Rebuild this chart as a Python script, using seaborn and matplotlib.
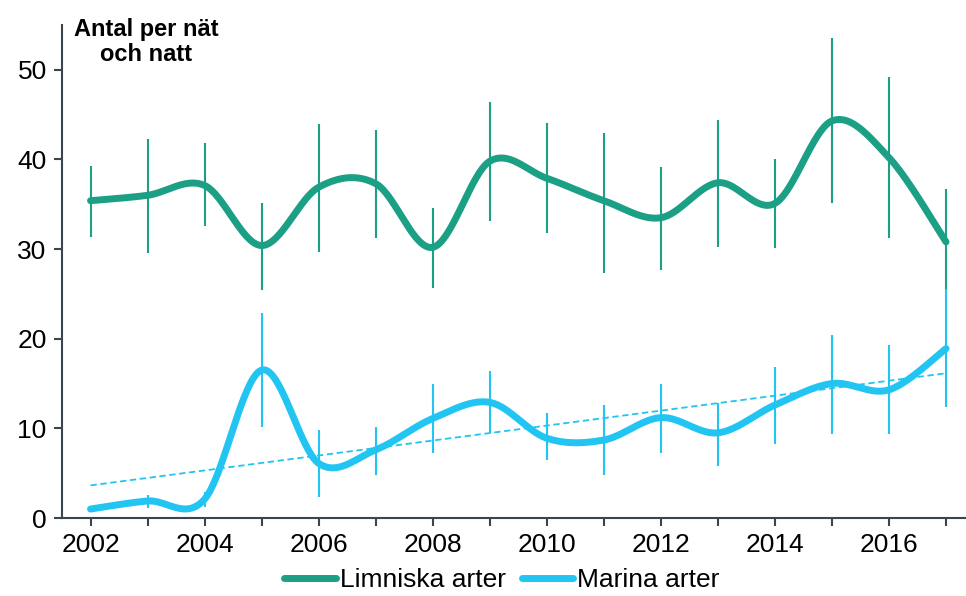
import numpy as np
import pandas as pd
import seaborn as sns
import matplotlib.pyplot as plt
from matplotlib.lines import Line2D

years = list(range(2002, 2018))

limniska = [35.4, 36.0, 37.1, 30.4, 36.9, 37.3, 30.2, 39.8, 37.9, 35.4,
            33.5, 37.4, 35.1, 44.3, 40.2, 30.8]
limniska_hi = [39.3, 42.3, 41.8, 35.1, 44.0, 43.3, 34.6, 46.4, 44.1, 43.0,
               39.2, 44.4, 40.1, 53.6, 49.2, 36.7]
limniska_lo = [31.3, 29.6, 32.6, 25.4, 29.7, 31.2, 25.7, 33.1, 31.8, 27.3,
               27.7, 30.2, 30.1, 35.1, 31.2, 25.4]

marina = [1.0, 1.9, 2.1, 16.5, 6.1, 7.6, 11.1, 12.9, 8.9, 8.7,
          11.2, 9.5, 12.6, 15.0, 14.3, 18.9]
marina_hi = [1.0, 2.6, 2.9, 22.9, 9.8, 10.1, 15.0, 16.4, 11.7, 12.6,
             15.0, 12.8, 16.8, 20.4, 19.3, 25.6]
marina_lo = [1.0, 1.1, 1.2, 10.1, 2.3, 4.8, 7.3, 9.5, 6.5, 4.8,
             7.3, 5.8, 8.2, 9.4, 9.4, 12.4]

series_names = ["Limniska arter", "Marina arter"]
colors = ["#1ba085", "#22c4f2"]
axis_col = "#3b4550"


def smooth(x, y, n=40):
    # Excel-style smoothed line (Catmull-Rom through the points)
    x = np.asarray(x, float)
    y = np.asarray(y, float)
    px = np.concatenate([[x[0]], x, [x[-1]]])
    py = np.concatenate([[y[0]], y, [y[-1]]])
    xs, ys = [], []
    t = np.linspace(0, 1, n)
    for i in range(1, len(px) - 2):
        p0, p1, p2, p3 = [np.array([px[j], py[j]]) for j in range(i - 1, i + 3)]
        c1 = p1 + (p2 - p0) / 6
        c2 = p2 - (p3 - p1) / 6
        pts = ((1 - t) ** 3)[:, None] * p1 + (3 * (1 - t) ** 2 * t)[:, None] * c1 \
            + (3 * (1 - t) * t ** 2)[:, None] * c2 + (t ** 3)[:, None] * p2
        xs.extend(pts[:, 0])
        ys.extend(pts[:, 1])
    return np.array(xs), np.array(ys)


sns.set_style("white")
plt.rcParams['font.family'] = ['Liberation Sans', 'DejaVu Sans']
plt.rcParams['text.color'] = 'black'

fig = plt.figure(figsize=(9.66, 5.96), dpi=100)
ax = fig.add_axes([62 / 966, 78 / 596, 1 - 62 / 966, 493 / 596])

for vals, hi, lo, col in [(limniska, limniska_hi, limniska_lo, colors[0]),
                          (marina, marina_hi, marina_lo, colors[1])]:
    ax.vlines(years, lo, hi, color=col, lw=1.5, zorder=2)
    sx, sy = smooth(years, vals)
    df = pd.DataFrame({"x": sx, "y": sy})
    sns.lineplot(data=df, x="x", y="y", ax=ax, color=col, lw=5, sort=False,
                 estimator=None, solid_capstyle="round", zorder=3)

trend_df = pd.DataFrame({"year": years, "marina": marina})
sns.regplot(data=trend_df, x="year", y="marina", ax=ax, scatter=False, ci=None,
            truncate=True, line_kws=dict(color=colors[1], lw=1.3, ls=(0, (3.5, 2)), zorder=2))

ax.set_xlim(2001.5, 2017.35)
ax.set_ylim(0, 55)
ax.set_xticks(years)
ax.set_xticklabels([str(y) if y % 2 == 0 else "" for y in years])
ax.set_yticks([0, 10, 20, 30, 40, 50])
ax.set_xlabel("")
ax.set_ylabel("")
sns.despine(ax=ax)
for s in ["left", "bottom"]:
    ax.spines[s].set_color(axis_col)
    ax.spines[s].set_linewidth(1.5)
ax.tick_params(axis="both", colors=axis_col, labelcolor="black", labelsize=19,
               direction="out", length=6, width=1.5, bottom=True, left=True)
ax.tick_params(axis="x", pad=5)
ax.tick_params(axis="y", pad=5)

fig.text(146 / 966, 1 - 42 / 596, "Antal per nät\noch natt", ha="center", va="center",
         fontsize=17, fontweight="bold", linespacing=1.12, color="black")

handles = [Line2D([], [], color=c, lw=5, solid_capstyle="round") for c in colors]
fig.legend(handles, series_names, loc="center", bbox_to_anchor=(502 / 966, 1 - 580 / 596),
           ncol=2, frameon=False, fontsize=19, handlelength=1.95, handletextpad=0.15,
           columnspacing=0.6)

fig.savefig("out.png", dpi=100)
